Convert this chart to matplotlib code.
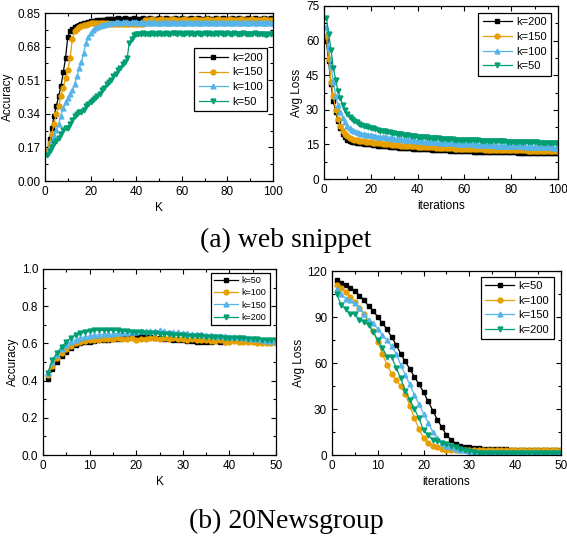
import matplotlib
matplotlib.use("Agg")
import matplotlib.pyplot as plt
from matplotlib.ticker import MultipleLocator, FormatStrFormatter

plt.rcParams['font.family'] = ['Liberation Sans', 'DejaVu Sans']

# ---------------- data: (a) web snippet ----------------
web_acc_k200 = [0.15, 0.21, 0.27, 0.33, 0.38, 0.43, 0.48, 0.55, 0.62, 0.73,
                0.76, 0.77, 0.78, 0.785, 0.79, 0.795, 0.80, 0.80, 0.805, 0.81,
                0.81, 0.81, 0.815, 0.815, 0.815, 0.815, 0.82, 0.82, 0.82, 0.82,
                0.82, 0.825, 0.82, 0.82, 0.825, 0.82, 0.82, 0.82, 0.825, 0.82,
                0.82, 0.82, 0.825, 0.82, 0.82, 0.825, 0.82, 0.82, 0.82, 0.825,
                0.82, 0.82, 0.825, 0.82, 0.82, 0.82, 0.825, 0.82, 0.82, 0.825,
                0.82, 0.82, 0.82, 0.825, 0.82, 0.82, 0.825, 0.82, 0.82, 0.82,
                0.825, 0.82, 0.82, 0.82, 0.825, 0.82, 0.82, 0.825, 0.82, 0.82,
                0.82, 0.825, 0.82, 0.82, 0.825, 0.82, 0.82, 0.82, 0.825, 0.82,
                0.82, 0.825, 0.82, 0.82, 0.82, 0.825, 0.82, 0.82, 0.825, 0.82]
web_acc_k150 = [0.15, 0.19, 0.24, 0.29, 0.34, 0.38, 0.43, 0.47, 0.52, 0.56,
                0.62, 0.72, 0.76, 0.77, 0.78, 0.785, 0.79, 0.79, 0.795, 0.80,
                0.80, 0.80, 0.80, 0.80, 0.80, 0.80, 0.80, 0.795, 0.795, 0.795,
                0.795, 0.795, 0.795, 0.795, 0.795, 0.795, 0.795, 0.795, 0.795, 0.795,
                0.795, 0.795, 0.795, 0.815, 0.815, 0.815, 0.82, 0.815, 0.815, 0.815,
                0.82, 0.815, 0.815, 0.815, 0.815, 0.82, 0.815, 0.815, 0.815, 0.815,
                0.82, 0.815, 0.815, 0.815, 0.815, 0.82, 0.815, 0.815, 0.815, 0.815,
                0.82, 0.815, 0.815, 0.815, 0.815, 0.82, 0.815, 0.815, 0.815, 0.815,
                0.82, 0.815, 0.815, 0.815, 0.815, 0.82, 0.815, 0.815, 0.815, 0.815,
                0.82, 0.815, 0.815, 0.815, 0.815, 0.82, 0.815, 0.815, 0.815, 0.815]
web_acc_k100 = [0.14, 0.17, 0.20, 0.23, 0.26, 0.29, 0.33, 0.37, 0.40, 0.42,
                0.44, 0.46, 0.49, 0.53, 0.57, 0.60, 0.65, 0.70, 0.73, 0.75,
                0.765, 0.775, 0.78, 0.785, 0.79, 0.79, 0.795, 0.80, 0.80, 0.80,
                0.805, 0.805, 0.80, 0.805, 0.805, 0.805, 0.80, 0.805, 0.805, 0.805,
                0.80, 0.805, 0.80, 0.80, 0.805, 0.80, 0.80, 0.805, 0.80, 0.80,
                0.80, 0.805, 0.80, 0.80, 0.80, 0.805, 0.80, 0.80, 0.805, 0.80,
                0.80, 0.80, 0.805, 0.80, 0.80, 0.805, 0.80, 0.80, 0.80, 0.805,
                0.80, 0.80, 0.805, 0.80, 0.80, 0.80, 0.805, 0.80, 0.80, 0.805,
                0.80, 0.80, 0.80, 0.805, 0.80, 0.80, 0.805, 0.80, 0.80, 0.80,
                0.805, 0.80, 0.80, 0.805, 0.80, 0.80, 0.80, 0.805, 0.80, 0.80]
web_acc_k50 = [0.13, 0.15, 0.17, 0.19, 0.20, 0.22, 0.24, 0.26, 0.27, 0.27,
               0.29, 0.31, 0.33, 0.34, 0.35, 0.35, 0.36, 0.38, 0.39, 0.40,
               0.41, 0.42, 0.43, 0.44, 0.46, 0.47, 0.49, 0.50, 0.51, 0.53,
               0.54, 0.56, 0.57, 0.59, 0.60, 0.62, 0.70, 0.72, 0.74, 0.745,
               0.745, 0.745, 0.75, 0.745, 0.745, 0.745, 0.75, 0.745, 0.745, 0.75,
               0.745, 0.745, 0.75, 0.745, 0.745, 0.75, 0.75, 0.745, 0.75, 0.745,
               0.745, 0.75, 0.745, 0.75, 0.745, 0.745, 0.75, 0.745, 0.745, 0.75,
               0.745, 0.75, 0.745, 0.745, 0.75, 0.745, 0.75, 0.745, 0.745, 0.75,
               0.745, 0.745, 0.75, 0.745, 0.745, 0.745, 0.75, 0.745, 0.745, 0.745,
               0.745, 0.75, 0.745, 0.745, 0.745, 0.745, 0.74, 0.745, 0.745, 0.745]

web_loss_k200 = [60, 51, 41, 34, 29, 25, 22, 19.5, 18, 17,
                 16.5, 16.2, 16, 15.8, 15.6, 15.5, 15.3, 15.2, 15.1, 15.0,
                 14.8, 14.7, 14.5, 14.4, 14.3, 14.2, 14.1, 14.0, 13.9, 13.8,
                 13.7, 13.6, 13.5, 13.5, 13.4, 13.3, 13.3, 13.2, 13.1, 13.0,
                 13.0, 12.9, 12.9, 12.8, 12.8, 12.7, 12.7, 12.6, 12.6, 12.5,
                 12.5, 12.4, 12.4, 12.3, 12.3, 12.2, 12.2, 12.2, 12.1, 12.1,
                 12.0, 12.0, 12.0, 11.9, 11.9, 11.9, 11.8, 11.8, 11.8, 11.7,
                 11.7, 11.7, 11.7, 11.6, 11.6, 11.6, 11.6, 11.5, 11.5, 11.5,
                 11.5, 11.5, 11.4, 11.4, 11.4, 11.4, 11.4, 11.3, 11.3, 11.3,
                 11.3, 11.3, 11.3, 11.2, 11.2, 11.2, 11.2, 11.2, 11.2, 11.2]
web_loss_k150 = [62, 52, 42, 36, 30, 26, 23, 21, 19.5, 18.5,
                 17.7, 17.3, 17.0, 16.8, 16.6, 16.5, 16.4, 16.2, 16.1, 16.0,
                 15.8, 15.6, 15.5, 15.4, 15.3, 15.2, 15.1, 15.0, 14.9, 14.8,
                 14.7, 14.6, 14.5, 14.5, 14.4, 14.3, 14.3, 14.2, 14.1, 14.0,
                 14.0, 13.9, 13.9, 13.8, 13.8, 13.7, 13.7, 13.6, 13.6, 13.5,
                 13.5, 13.4, 13.4, 13.3, 13.3, 13.2, 13.2, 13.1, 13.1, 13.0,
                 13.0, 13.0, 12.9, 12.9, 12.9, 12.8, 12.8, 12.8, 12.7, 12.7,
                 12.7, 12.7, 12.6, 12.6, 12.6, 12.6, 12.5, 12.5, 12.5, 12.5,
                 12.5, 12.4, 12.4, 12.4, 12.4, 12.4, 12.3, 12.3, 12.3, 12.3,
                 12.3, 12.3, 12.2, 12.2, 12.2, 12.2, 12.2, 12.2, 12.2, 12.2]
web_loss_k100 = [66, 57, 49, 42, 36, 32, 29, 26.5, 24.5, 23,
                 22, 21.2, 20.6, 20.2, 19.9, 19.6, 19.4, 19.2, 19.1, 19.0,
                 18.8, 18.6, 18.4, 18.3, 18.1, 18.0, 17.9, 17.8, 17.6, 17.5,
                 17.4, 17.3, 17.2, 17.1, 17.0, 16.9, 16.8, 16.7, 16.6, 16.5,
                 16.4, 16.3, 16.2, 16.2, 16.1, 16.0, 16.0, 15.9, 15.8, 15.8,
                 15.7, 15.6, 15.6, 15.5, 15.5, 15.4, 15.3, 15.3, 15.2, 15.2,
                 15.1, 15.1, 15.0, 15.0, 14.9, 14.9, 14.8, 14.8, 14.7, 14.7,
                 14.6, 14.6, 14.5, 14.5, 14.5, 14.4, 14.4, 14.3, 14.3, 14.3,
                 14.2, 14.2, 14.1, 14.1, 14.1, 14.0, 14.0, 14.0, 13.9, 13.9,
                 13.9, 13.8, 13.8, 13.8, 13.7, 13.7, 13.7, 13.6, 13.6, 13.6]
web_loss_k50 = [70, 63, 56, 48, 43, 38, 35, 32, 30, 28,
                27, 26, 25.2, 24.5, 24, 23.5, 23.1, 22.8, 22.5, 22.2,
                21.9, 21.6, 21.3, 21.0, 20.8, 20.6, 20.4, 20.2, 20.0, 19.8,
                19.6, 19.4, 19.3, 19.1, 19.0, 18.9, 18.7, 18.6, 18.5, 18.4,
                18.3, 18.2, 18.1, 18.0, 17.9, 17.8, 17.7, 17.6, 17.6, 17.5,
                17.4, 17.4, 17.3, 17.2, 17.2, 17.1, 17.1, 17.0, 17.0, 16.9,
                16.9, 16.8, 16.8, 16.7, 16.7, 16.7, 16.6, 16.6, 16.5, 16.5,
                16.5, 16.4, 16.4, 16.4, 16.3, 16.3, 16.3, 16.2, 16.2, 16.2,
                16.1, 16.1, 16.1, 16.0, 16.0, 16.0, 16.0, 15.9, 15.9, 15.9,
                15.9, 15.8, 15.8, 15.8, 15.8, 15.7, 15.7, 15.7, 15.7, 15.7]

# ---------------- data: (b) 20Newsgroup ----------------
news_acc_k50 = [0.41, 0.46, 0.50, 0.53, 0.555, 0.575, 0.59, 0.60, 0.605, 0.61,
                0.615, 0.62, 0.62, 0.62, 0.625, 0.625, 0.63, 0.63, 0.635, 0.64,
                0.64, 0.64, 0.635, 0.63, 0.63, 0.625, 0.625, 0.62, 0.62, 0.62,
                0.615, 0.615, 0.61, 0.61, 0.61, 0.61, 0.615, 0.61, 0.61]
news_acc_k100 = [0.43, 0.48, 0.52, 0.55, 0.57, 0.585, 0.60, 0.61, 0.615, 0.62,
                 0.62, 0.62, 0.625, 0.625, 0.625, 0.63, 0.625, 0.625, 0.63, 0.62,
                 0.625, 0.625, 0.63, 0.63, 0.625, 0.63, 0.625, 0.63, 0.625, 0.625,
                 0.62, 0.625, 0.62, 0.62, 0.62, 0.615, 0.615, 0.62, 0.61, 0.61,
                 0.615, 0.61, 0.61, 0.605, 0.605, 0.60, 0.60, 0.60, 0.60, 0.60]
news_acc_k150 = [0.44, 0.50, 0.54, 0.57, 0.59, 0.61, 0.62, 0.63, 0.635, 0.64,
                 0.645, 0.645, 0.65, 0.65, 0.65, 0.655, 0.655, 0.655, 0.66, 0.66,
                 0.665, 0.665, 0.665, 0.665, 0.67, 0.665, 0.66, 0.66, 0.66, 0.655,
                 0.655, 0.65, 0.65, 0.65, 0.645, 0.645, 0.64, 0.64, 0.64, 0.635,
                 0.635, 0.635, 0.63, 0.63, 0.625, 0.625, 0.62, 0.615, 0.615, 0.61]
news_acc_k200 = [0.44, 0.51, 0.55, 0.58, 0.61, 0.63, 0.645, 0.655, 0.66, 0.665,
                 0.67, 0.67, 0.67, 0.67, 0.67, 0.67, 0.665, 0.665, 0.66, 0.66,
                 0.66, 0.655, 0.655, 0.655, 0.65, 0.65, 0.65, 0.645, 0.645, 0.645,
                 0.64, 0.64, 0.64, 0.64, 0.635, 0.635, 0.635, 0.635, 0.63, 0.63,
                 0.63, 0.63, 0.63, 0.625, 0.625, 0.625, 0.62, 0.62, 0.62, 0.62]

news_loss_k50 = [114, 112, 111, 109, 107, 104, 101, 97, 94, 90,
                 86, 82, 77, 72, 66, 61, 56, 51, 46, 41,
                 35, 29, 23, 18, 13, 10, 7.5, 6, 5.5, 5,
                 4.5, 4.5, 4, 4, 4, 4, 4, 4, 3.5, 3.5,
                 3.5, 3.5, 3.5, 3.5, 3.5, 3.5, 3.5, 3.5, 3.5, 3.5]
news_loss_k100 = [111, 109, 106, 103, 100, 96, 92, 86, 81, 74,
                  66, 59, 53, 49, 45, 40, 32, 24, 17, 11,
                  8, 6, 5, 4, 3.5, 3, 3, 3, 3, 3,
                  3, 3, 3, 3, 3, 3, 3, 3, 3, 3,
                  3, 3, 3, 3, 3, 3, 3, 3, 3, 3]
news_loss_k150 = [108, 105, 102, 101, 99, 96, 92, 88, 86, 82,
                  78, 75, 71, 66, 59, 52, 46, 39, 33, 27,
                  21, 15, 11, 8, 6, 5, 4, 3.5, 3, 2.5,
                  2, 2, 2, 2, 2, 2, 2, 2, 2, 2,
                  2, 2, 2, 2, 2, 2, 2, 2, 2, 2]
news_loss_k200 = [105, 98, 95, 92, 92, 88, 87, 85, 80, 75,
                  70, 64, 64, 57, 50, 42, 36, 30, 24, 16,
                  13, 10, 9, 8, 7, 6, 5, 4, 3, 2.5,
                  2, 1.5, 1, 1, 1, 1, 1, 1, 1, 1,
                  1, 1, 1, 1, 1, 1, 1, 1, 1, 1]

BLACK, ORANGE, BLUE, GREEN = 'black', '#E69F00', '#56B4E9', '#009E73'


def draw(ax, series, labels, colors, markers, legend_box, legend_size, spacing):
    for ys, lab, c, m in zip(series, labels, colors, markers):
        xs = range(1, len(ys) + 1)
        ax.plot(xs, ys, color=c, marker=m, markersize=3.5, linewidth=0.9,
                label=lab)
    leg = ax.legend(loc='upper left', bbox_to_anchor=legend_box,
                    fontsize=legend_size, frameon=True, fancybox=False,
                    edgecolor='black', framealpha=1, borderaxespad=0,
                    handlelength=2.6, handletextpad=0.4, labelspacing=spacing,
                    borderpad=0.4)
    leg.get_frame().set_linewidth(0.9)
    ax.tick_params(which='both', direction='in', top=True, right=True,
                   labelsize=8.5, width=0.8)
    ax.tick_params(which='major', length=3.5)
    ax.tick_params(which='minor', length=2)
    for s in ax.spines.values():
        s.set_linewidth(0.9)


fig = plt.figure(figsize=(5.67, 5.4), dpi=100)

# (a) left
ax1 = fig.add_axes([45 / 567, 1 - 181 / 540, 228 / 567, 168 / 540])
draw(ax1, [web_acc_k200, web_acc_k150, web_acc_k100, web_acc_k50],
     ['k=200', 'k=150', 'k=100', 'k=50'], [BLACK, ORANGE, BLUE, GREEN],
     ['s', 'o', '^', 'v'], (0.655, 0.79), 8, 0.42)
ax1.set_xlim(0, 100)
ax1.set_ylim(0, 0.85)
ax1.set_yticks([0, 0.17, 0.34, 0.51, 0.68, 0.85])
ax1.yaxis.set_major_formatter(FormatStrFormatter('%.2f'))
ax1.yaxis.set_minor_locator(MultipleLocator(0.085))
ax1.xaxis.set_major_locator(MultipleLocator(20))
ax1.xaxis.set_minor_locator(MultipleLocator(10))
ax1.set_xlabel('K', fontsize=8.5, labelpad=3)
ax1.set_ylabel('Accuracy', fontsize=8.5, labelpad=2)

# (a) right
ax2 = fig.add_axes([324 / 567, 1 - 179 / 540, 234 / 567, 173 / 540])
draw(ax2, [web_loss_k200, web_loss_k150, web_loss_k100, web_loss_k50],
     ['k=200', 'k=150', 'k=100', 'k=50'], [BLACK, ORANGE, BLUE, GREEN],
     ['s', 'o', '^', 'v'], (0.66, 0.96), 8, 0.42)
ax2.set_xlim(0, 100)
ax2.set_ylim(0, 75)
ax2.yaxis.set_major_locator(MultipleLocator(15))
ax2.yaxis.set_minor_locator(MultipleLocator(7.5))
ax2.xaxis.set_major_locator(MultipleLocator(20))
ax2.xaxis.set_minor_locator(MultipleLocator(10))
ax2.set_xlabel('iterations', fontsize=8.5, labelpad=3)
ax2.set_ylabel('Avg Loss', fontsize=8.5, labelpad=2)

# (b) left
ax3 = fig.add_axes([43 / 567, 1 - 455 / 540, 233 / 567, 186 / 540])
draw(ax3, [news_acc_k50, news_acc_k100, news_acc_k150, news_acc_k200],
     ['k=50', 'k=100', 'k=150', 'k=200'], [BLACK, ORANGE, BLUE, GREEN],
     ['s', 'o', '^', 'v'], (0.72, 0.98), 6.5, 0.35)
ax3.set_xlim(0, 50)
ax3.set_ylim(0, 1.0)
ax3.yaxis.set_major_locator(MultipleLocator(0.2))
ax3.yaxis.set_minor_locator(MultipleLocator(0.1))
ax3.yaxis.set_major_formatter(FormatStrFormatter('%.1f'))
ax3.xaxis.set_major_locator(MultipleLocator(10))
ax3.xaxis.set_minor_locator(MultipleLocator(5))
ax3.set_xlabel('K', fontsize=8.5, labelpad=3)
ax3.set_ylabel('Accuracy', fontsize=8.5, labelpad=2)

# (b) right
ax4 = fig.add_axes([332 / 567, 1 - 455 / 540, 229 / 567, 184 / 540])
draw(ax4, [news_loss_k50, news_loss_k100, news_loss_k150, news_loss_k200],
     ['k=50', 'k=100', 'k=150', 'k=200'], [BLACK, ORANGE, BLUE, GREEN],
     ['s', 'o', '^', 'v'], (0.65, 0.97), 8, 0.42)
ax4.set_xlim(0, 50)
ax4.set_ylim(0, 120)
ax4.yaxis.set_major_locator(MultipleLocator(30))
ax4.yaxis.set_minor_locator(MultipleLocator(15))
ax4.xaxis.set_major_locator(MultipleLocator(10))
ax4.xaxis.set_minor_locator(MultipleLocator(5))
ax4.set_xlabel('iterations', fontsize=8.5, labelpad=3)
ax4.set_ylabel('Avg Loss', fontsize=8.5, labelpad=2)

fig.text(286 / 567, 1 - 240 / 540, '(a) web snippet', ha='center', va='center',
         fontsize=20, family='Liberation Serif')
fig.text(286 / 567, 1 - 521 / 540, '(b) 20Newsgroup', ha='center', va='center',
         fontsize=20, family='Liberation Serif')

fig.savefig('out.png', dpi=100)
